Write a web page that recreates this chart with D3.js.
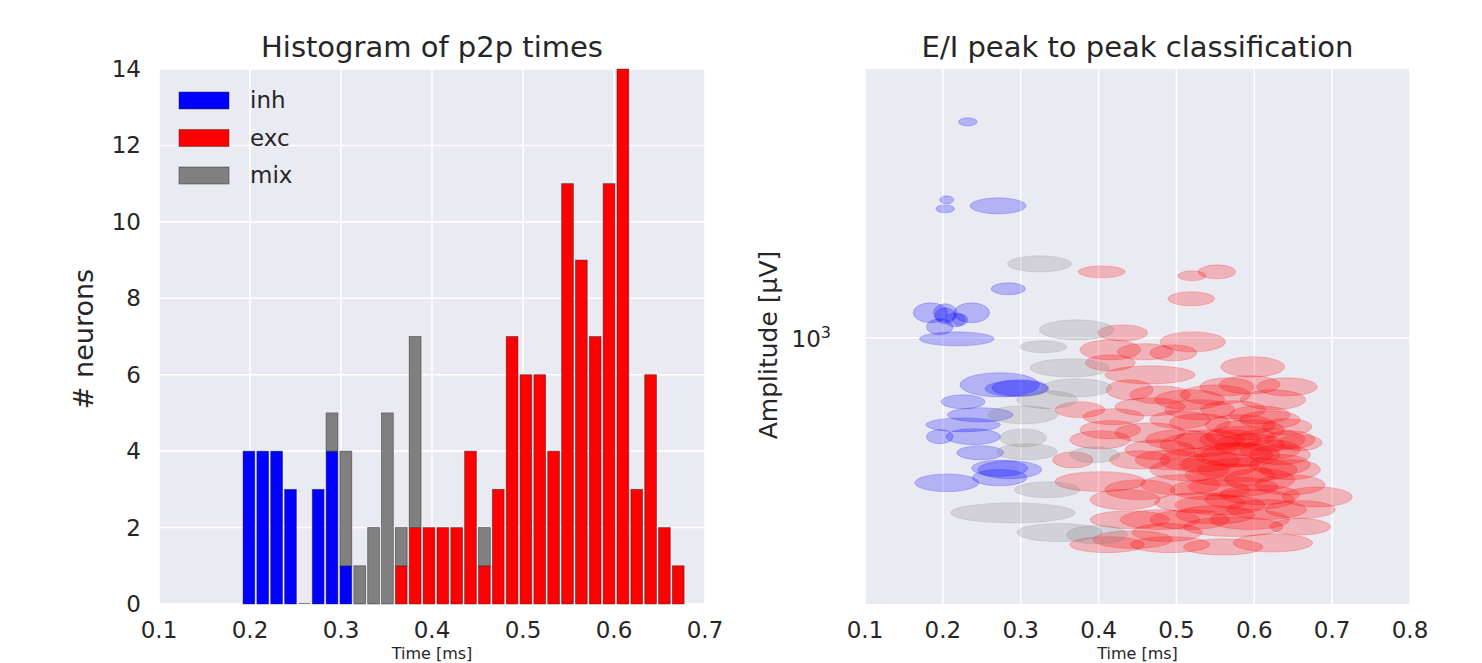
<!DOCTYPE html>
<html>
<head>
<meta charset="utf-8">
<script src="https://cdn.jsdelivr.net/npm/d3@7"></script>
<style>
  body { margin: 0; background: #fff; }
  text { font-family: "DejaVu Sans", sans-serif; fill: #262626; }
</style>
</head>
<body>
<svg id="chart" width="1482" height="663"></svg>
<script>
// histogram bins (left edges + last right edge), p2p time
let binEdges = [0.1912, 0.2064, 0.2216, 0.2369, 0.2521, 0.2673, 0.2825, 0.2977, 0.3130, 0.3282,
    0.3434, 0.3586, 0.3738, 0.3891, 0.4043, 0.4195, 0.4347, 0.4499, 0.4652, 0.4804, 0.4956,
    0.5108, 0.5260, 0.5413, 0.5565, 0.5717, 0.5869, 0.6021, 0.6174, 0.6326, 0.6478, 0.6630, 0.6782];
let inhCounts = [4, 4, 4, 3, 0, 3, 4, 1, 0, 0, 0, 0, 0, 0, 0, 0, 0, 0, 0, 0, 0, 0, 0, 0, 0, 0, 0, 0, 0, 0, 0, 0];
let excCounts = [0, 0, 0, 0, 0, 0, 0, 0, 0, 0, 0, 1, 2, 2, 2, 2, 4, 1, 3, 7, 6, 6, 4, 11, 9, 7, 11, 14, 3, 6, 2, 1];
let mixCounts = [0, 0, 0, 0, 0, 0, 1, 3, 1, 2, 5, 1, 5, 0, 0, 0, 0, 1, 0, 0, 0, 0, 0, 0, 0, 0, 0, 0, 0, 0, 0, 0];
let classes = ['inh', 'exc', 'mix'];
let histTicksX = [0.1, 0.2, 0.3, 0.4, 0.5, 0.6, 0.7];
let histTicksY = [0, 2, 4, 6, 8, 10, 12, 14];

// ellipses: centre time, amplitude, spread in time and amplitude
let inhTime = [0.232, 0.205, 0.203, 0.271, 0.284, 0.184, 0.203, 0.237, 0.196, 0.222, 0.218, 0.273, 0.295, 0.226, 0.248, 0.226, 0.239, 0.196, 0.248, 0.286, 0.273, 0.205,
    0.203, 0.216, 0.299, 0.273];
let inhAmp = [3467, 2213, 2101, 2138, 1326, 1155, 1155, 1155, 1065, 1109, 994, 763, 746, 692, 642, 606, 566, 566, 516, 468, 447, 434,
    1135, 1109, 750, 472];
let inhTimeSd = [0.012, 0.009, 0.012, 0.036, 0.022, 0.022, 0.015, 0.023, 0.017, 0.010, 0.048, 0.051, 0.041, 0.028, 0.042, 0.048, 0.035, 0.017, 0.030, 0.041, 0.035, 0.041,
    0.013, 0.013, 0.036, 0.036];
let inhAmpSd = [80, 51, 48, 98, 46, 66, 60, 66, 49, 38, 40, 53, 34, 28, 26, 24, 26, 23, 21, 24, 21, 22,
    52, 45, 35, 22];

let mixTime = [0.324, 0.372, 0.329, 0.372, 0.334, 0.303, 0.303, 0.308, 0.334, 0.290, 0.350, 0.398, 0.363, 0.395];
let mixAmp = [1531, 1047, 950, 750, 700, 642, 562, 519, 417, 365, 326, 322, 841, 510];
let mixTimeSd = [0.041, 0.048, 0.030, 0.045, 0.039, 0.045, 0.030, 0.039, 0.042, 0.080, 0.055, 0.039, 0.051, 0.032];
let mixAmpSd = [71, 60, 33, 39, 36, 33, 29, 24, 19, 21, 17, 17, 44, 23];

let excTime = [0.404, 0.520, 0.552, 0.519, 0.431, 0.415, 0.521, 0.496, 0.598, 0.415, 0.466, 0.642, 0.440, 0.565,
    0.624, 0.517, 0.466, 0.573, 0.419, 0.530, 0.642, 0.466, 0.582, 0.530, 0.594, 0.620, 0.573, 0.659, 0.402,
    0.591, 0.573, 0.681, 0.530, 0.616, 0.479, 0.573, 0.488, 0.624, 0.560, 0.444, 0.659, 0.411, 0.367, 0.556,
    0.607, 0.517, 0.633, 0.543, 0.594, 0.492, 0.582, 0.646, 0.505, 0.453, 0.550, 0.434, 0.646, 0.607, 0.550,
    0.479, 0.505, 0.460, 0.415, 0.402, 0.376,
    0.530, 0.582, 0.620, 0.569, 0.607, 0.556, 0.505, 0.646, 0.594, 0.543, 0.479, 0.659, 0.517, 0.594,
    0.453, 0.633, 0.569, 0.530, 0.594, 0.620, 0.440, 0.492];
let excAmp = [1462, 1429, 1462, 1252, 1029, 933, 977, 917, 846, 866, 808, 754, 741, 754,
    700, 700, 672, 661, 635, 613, 599, 579, 566, 540, 540, 525, 510, 547, 437,
    468, 424, 400, 387, 372, 351, 337, 326, 307, 300, 313, 337, 304, 495, 482,
    442, 468, 482, 417, 394, 495, 606, 468, 556, 495, 361, 394, 556, 642, 720,
    720, 624, 923, 589, 556, 661,
    495, 510, 556, 454, 405, 382, 429, 429, 589, 556, 525, 372, 351, 351,
    417, 510, 556, 661, 763, 624, 351, 304];
let excTimeSd = [0.030, 0.018, 0.024, 0.030, 0.032, 0.039, 0.042, 0.030, 0.041, 0.032, 0.058, 0.039, 0.030, 0.035,
    0.042, 0.045, 0.045, 0.042, 0.039, 0.039, 0.032, 0.045, 0.045, 0.051, 0.045, 0.039, 0.051, 0.028, 0.058,
    0.064, 0.058, 0.045, 0.058, 0.051, 0.051, 0.064, 0.045, 0.051, 0.051, 0.051, 0.039, 0.048, 0.026, 0.051,
    0.045, 0.051, 0.039, 0.051, 0.058, 0.045, 0.045, 0.039, 0.045, 0.039, 0.051, 0.045, 0.032, 0.039, 0.045,
    0.039, 0.039, 0.036, 0.039, 0.039, 0.032,
    0.051, 0.051, 0.045, 0.058, 0.051, 0.058, 0.051, 0.045, 0.045, 0.045, 0.045, 0.045, 0.051, 0.051,
    0.045, 0.039, 0.039, 0.045, 0.039, 0.039, 0.051, 0.051];
let excAmpSd = [50, 41, 59, 50, 47, 54, 56, 42, 49, 40, 42, 39, 43, 39,
    40, 40, 35, 34, 29, 32, 28, 33, 33, 37, 34, 30, 35, 25, 25,
    32, 24, 23, 22, 21, 20, 19, 17, 16, 14, 16, 16, 14, 23, 33,
    28, 30, 28, 24, 23, 28, 35, 27, 32, 26, 19, 23, 29, 33, 41,
    37, 32, 43, 31, 29, 30,
    34, 35, 35, 29, 23, 22, 25, 25, 34, 32, 30, 19, 20, 20,
    24, 29, 32, 38, 40, 32, 18, 14];
let scatterTicksX = [0.1, 0.2, 0.3, 0.4, 0.5, 0.6, 0.7, 0.8];

let colors = {inh: '#0000ff', exc: '#ff0000', mix: '#808080'};

let svg = d3.select('#chart');
let plotTop = 69, plotBottom = 604;
let histLeft = 159, histRight = 705;
let scLeft = 865, scRight = 1410;

/** Histogram of p2p times **/
let x = d3.scaleLinear().domain([0.1, 0.7]).range([histLeft, histRight]);
let y = d3.scaleLinear().domain([0, 14]).range([plotBottom, plotTop]);

let hist = svg.append('g');
hist.append('rect').attr('x', histLeft).attr('y', plotTop)
    .attr('width', histRight - histLeft).attr('height', plotBottom - plotTop).attr('fill', '#eaeaf2');
hist.selectAll('.vgrid').data(histTicksX).enter().append('line')
    .attr('x1', d => x(d)).attr('x2', d => x(d)).attr('y1', plotTop).attr('y2', plotBottom)
    .attr('stroke', '#fff').attr('stroke-width', 1.6);
hist.selectAll('.hgrid').data(histTicksY).enter().append('line')
    .attr('x1', histLeft).attr('x2', histRight).attr('y1', d => y(d)).attr('y2', d => y(d))
    .attr('stroke', '#fff').attr('stroke-width', 1.6);

let bins = inhCounts.map((d, i) => ({
    x0: binEdges[i], x1: binEdges[i + 1], inh: inhCounts[i], exc: excCounts[i], mix: mixCounts[i]
}));
let stacked = d3.stack().keys(classes)(bins);
let rwidth = 0.85;

stacked.forEach(function (layer) {
    hist.selectAll('.bar-' + layer.key).data(layer.filter(d => d[1] > d[0])).enter().append('rect')
        .attr('x', function (d) {
            let w = x(d.data.x1) - x(d.data.x0);
            return x(d.data.x0) + w * (1 - rwidth) / 2;
        })
        .attr('y', d => y(d[1]))
        .attr('width', d => (x(d.data.x1) - x(d.data.x0)) * rwidth)
        .attr('height', d => y(d[0]) - y(d[1]))
        .attr('fill', colors[layer.key])
        .attr('stroke', '#222').attr('stroke-opacity', 0.55).attr('stroke-width', 0.8);
});
// empty bins still leave a flat edge on the baseline
hist.selectAll('.empty').data(bins.filter(d => d.inh + d.exc + d.mix === 0)).enter().append('line')
    .attr('x1', d => x(d.x0) + (x(d.x1) - x(d.x0)) * (1 - rwidth) / 2)
    .attr('x2', d => x(d.x0) + (x(d.x1) - x(d.x0)) * (1 + rwidth) / 2)
    .attr('y1', plotBottom - 0.5).attr('y2', plotBottom - 0.5)
    .attr('stroke', '#888').attr('stroke-width', 1.2);

hist.selectAll('.xtick').data(histTicksX).enter().append('text')
    .attr('x', d => x(d)).attr('y', 638).attr('text-anchor', 'middle')
    .style('font-size', '23px').text(d => d.toFixed(1));
hist.selectAll('.ytick').data(histTicksY).enter().append('text')
    .attr('x', 141).attr('y', d => y(d) + 8).attr('text-anchor', 'end')
    .style('font-size', '23px').text(d => d);

hist.append('text').attr('x', (histLeft + histRight) / 2).attr('y', 57).attr('text-anchor', 'middle')
    .style('font-size', '29px').text('Histogram of p2p times');
hist.append('text').attr('transform', 'translate(93, 339) rotate(-90)').attr('text-anchor', 'middle')
    .style('font-size', '27px').text('# neurons');
hist.append('text').attr('x', (histLeft + histRight) / 2).attr('y', 659).attr('text-anchor', 'middle')
    .style('font-size', '16px').text('Time [ms]');

let legend = hist.selectAll('.legend').data(classes).enter().append('g')
    .attr('transform', (d, i) => 'translate(179,' + (92 + i * 37.5) + ')');
legend.append('rect').attr('width', 50).attr('height', 17)
    .attr('fill', d => colors[d]).attr('stroke', '#222').attr('stroke-opacity', 0.55).attr('stroke-width', 0.8);
legend.append('text').attr('x', 71).attr('y', 16).style('font-size', '23px').text(d => d);

/** E/I peak to peak classification **/
let sx = d3.scaleLinear().domain([0.1, 0.8]).range([scLeft, scRight]);
let sy = d3.scaleLog().domain([216, 4700]).range([plotBottom, plotTop]);

let sc = svg.append('g');
sc.append('defs').append('clipPath').attr('id', 'scClip').append('rect')
    .attr('x', scLeft).attr('y', plotTop).attr('width', scRight - scLeft).attr('height', plotBottom - plotTop);
sc.append('rect').attr('x', scLeft).attr('y', plotTop)
    .attr('width', scRight - scLeft).attr('height', plotBottom - plotTop).attr('fill', '#eaeaf2');
sc.selectAll('.vgrid').data(scatterTicksX).enter().append('line')
    .attr('x1', d => sx(d)).attr('x2', d => sx(d)).attr('y1', plotTop).attr('y2', plotBottom)
    .attr('stroke', '#fff').attr('stroke-width', 1.6);
sc.append('line').attr('x1', scLeft).attr('x2', scRight).attr('y1', sy(1000)).attr('y2', sy(1000))
    .attr('stroke', '#fff').attr('stroke-width', 1.6);

let groups = [
    {key: 'inh', time: inhTime, amp: inhAmp, tsd: inhTimeSd, asd: inhAmpSd},
    {key: 'exc', time: excTime, amp: excAmp, tsd: excTimeSd, asd: excAmpSd},
    {key: 'mix', time: mixTime, amp: mixAmp, tsd: mixTimeSd, asd: mixAmpSd}
];
let ellLayer = sc.append('g').attr('clip-path', 'url(#scClip)');
groups.forEach(function (g) {
    let rows = g.time.map((t, i) => ({t: t, a: g.amp[i], ts: g.tsd[i], as: g.asd[i]}));
    ellLayer.selectAll('.ell-' + g.key).data(rows).enter().append('ellipse')
        .attr('cx', d => sx(d.t))
        .attr('cy', d => sy(d.a))
        .attr('rx', d => sx(d.t + d.ts) - sx(d.t))
        .attr('ry', d => (sy(d.a - d.as) - sy(d.a + d.as)) / 2)
        .attr('fill', colors[g.key]).attr('fill-opacity', 0.24)
        .attr('stroke', colors[g.key]).attr('stroke-opacity', 0.2).attr('stroke-width', 1);
});

sc.selectAll('.xtick').data(scatterTicksX).enter().append('text')
    .attr('x', d => sx(d)).attr('y', 638).attr('text-anchor', 'middle')
    .style('font-size', '23px').text(d => d.toFixed(1));
let ylab = sc.append('text').attr('x', 831).attr('y', sy(1000) + 9).attr('text-anchor', 'end')
    .style('font-size', '23px');
ylab.append('tspan').text('10');
ylab.append('tspan').attr('dy', -9).style('font-size', '16px').text('3');

sc.append('text').attr('x', (scLeft + scRight) / 2).attr('y', 57).attr('text-anchor', 'middle')
    .style('font-size', '29px').text('E/I peak to peak classification');
sc.append('text').attr('transform', 'translate(777, 345) rotate(-90)').attr('text-anchor', 'middle')
    .style('font-size', '25px').text('Amplitude [μV]');
sc.append('text').attr('x', (scLeft + scRight) / 2).attr('y', 659).attr('text-anchor', 'middle')
    .style('font-size', '16px').text('Time [ms]');
</script>
</body>
</html>
